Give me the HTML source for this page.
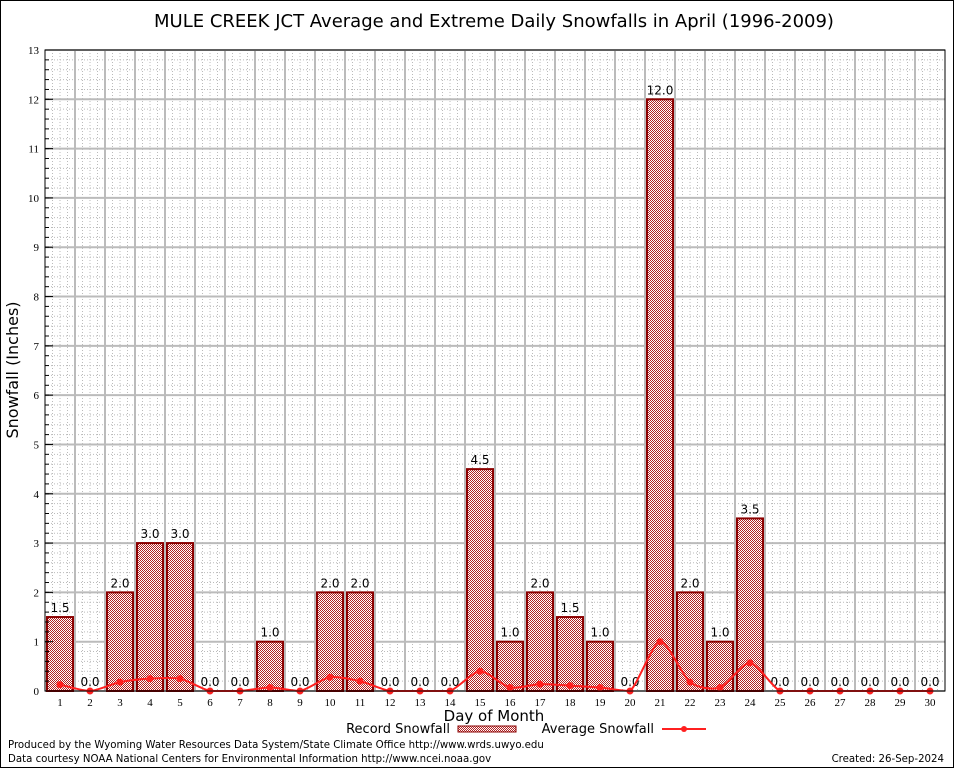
<!DOCTYPE html>
<html><head><meta charset="utf-8"><style>
body{margin:0;background:#fff;}
svg{display:block;font-family:"DejaVu Sans","Liberation Sans",sans-serif;}
</style></head><body>
<svg id="c" width="954" height="768">
<defs>
<pattern id="hatch" width="2" height="2" patternUnits="userSpaceOnUse">
<rect width="2" height="2" fill="#fff"/>
<rect x="0" y="0" width="1" height="1" fill="#b22222"/>
<rect x="1" y="1" width="1" height="1" fill="#b22222"/>
</pattern>
</defs>
<rect x="0.5" y="0.5" width="953" height="767" fill="#fff" stroke="#000"/>
<text x="494" y="27" font-size="18" text-anchor="middle">MULE CREEK JCT Average and Extreme Daily Snowfalls in April (1996-2009)</text>
<g id="grid"></g>
<g id="bars"></g>
<g id="avg"></g>
<g id="axes"></g>
<text x="18" y="370" font-size="16" text-anchor="middle" transform="rotate(-90 18 370)">Snowfall (Inches)</text>
<text x="494" y="721" font-size="15" text-anchor="middle">Day of Month</text>
<g>
<text x="450" y="733" font-size="13" text-anchor="end">Record Snowfall</text>
<rect x="458" y="726" width="58" height="6" fill="url(#hatch)" stroke="#8b0000"/>
<text x="654" y="733" font-size="13" text-anchor="end">Average Snowfall</text>
<line x1="662" y1="729" x2="706" y2="729" stroke="#ff2020" stroke-width="2"/>
<circle cx="684" cy="729" r="3" fill="#ff2020"/>
</g>
<text x="8" y="748" font-size="10.2">Produced by the Wyoming Water Resources Data System/State Climate Office http://www.wrds.uwyo.edu</text>
<text x="8" y="762" font-size="10.2">Data courtesy NOAA National Centers for Environmental Information http://www.ncei.noaa.gov</text>
<text x="944" y="762" font-size="10.2" text-anchor="end">Created:  26-Sep-2024</text>
</svg>
<script>
const days=[1,2,3,4,5,6,7,8,9,10,11,12,13,14,15,16,17,18,19,20,21,22,23,24,25,26,27,28,29,30];
const records=[1.5,0,2,3,3,0,0,1,0,2,2,0,0,0,4.5,1,2,1.5,1,0,12,2,1,3.5,0,0,0,0,0,0];
const averages=[0.13,0,0.18,0.25,0.25,0,0,0.07,0,0.28,0.2,0,0,0,0.4,0.07,0.14,0.11,0.07,0,1.0,0.18,0.07,0.57,0,0,0,0,0,0];
const yTicks=[0,1,2,3,4,5,6,7,8,9,10,11,12,13];
const L=45,R=945,T=50,B=691,yMax=13;
const slot=(R-L)/days.length;
const xs=d=>L+(d-0.5)*slot;
const ys=v=>B-(v/yMax)*(B-T);
const NS='http://www.w3.org/2000/svg';
function mk(tag,attrs,parent,txt){const e=document.createElementNS(NS,tag);for(const k in attrs)e.setAttribute(k,attrs[k]);if(txt!==undefined)e.textContent=txt;parent.appendChild(e);return e;}
const grid=document.getElementById('grid'),bars=document.getElementById('bars'),avg=document.getElementById('avg'),axes=document.getElementById('axes');
for(let v=0;v<=yMax;v+=0.2){const l=mk('line',{x1:L,x2:R,y1:ys(v),y2:ys(v),stroke:'#bbb','stroke-dasharray':'1,2'},grid);}
for(let i=0;i<days.length*4;i++){const x=L+i*slot/4;const l=mk('line',{x1:x,x2:x,y1:T,y2:B,stroke:'#bbb','stroke-dasharray':'1,2'},grid);}
yTicks.forEach(v=>{const l=mk('line',{x1:L,x2:R,y1:ys(v),y2:ys(v),stroke:'#bbb','stroke-width':2},grid);});
for(let i=1;i<days.length;i++){const x=L+i*slot;const l=mk('line',{x1:x,x2:x,y1:T,y2:B,stroke:'#bbb','stroke-width':2},grid);}
days.forEach((d,i)=>{
 const v=records[i];
 if(v>0){const r=mk('rect',{x:xs(d)-13,y:ys(v),width:26,height:B-ys(v),fill:'url(#hatch)',stroke:'#8b0000','stroke-width':2},bars);}
 const t=mk('text',{x:xs(d),y:ys(v)-5,'font-size':12,'text-anchor':'middle'},bars,v.toFixed(1));
 const xt=mk('text',{x:xs(d),y:B+15,'font-size':11,'text-anchor':'middle','font-family':'Liberation Serif,serif'},axes,String(d));
});
const pts=days.map((d,i)=>[xs(d),ys(averages[i])]);
let dp='M'+pts[0][0]+','+pts[0][1];
for(let i=0;i<pts.length-1;i++){const p0=pts[Math.max(0,i-1)],p1=pts[i],p2=pts[i+1],p3=pts[Math.min(pts.length-1,i+2)];
 const c1y=Math.min(B,p1[1]+(p2[1]-p0[1])/8),c2y=Math.min(B,p2[1]-(p3[1]-p1[1])/8);
 dp+=' C'+(p1[0]+(p2[0]-p0[0])/8)+','+c1y+' '+(p2[0]-(p3[0]-p1[0])/8)+','+c2y+' '+p2[0]+','+p2[1];}
const path=mk('path',{d:dp,fill:'none',stroke:'#ff2020','stroke-width':2},avg);


pts.forEach(p=>{const c=mk('circle',{cx:p[0],cy:p[1],r:3.5,fill:'#ff2020'},avg);});
const fr=mk('rect',{x:L,y:T,width:R-L,height:B-T,fill:'none',stroke:'#000'},axes);


yTicks.forEach(v=>{const tk=mk('line',{x1:L,x2:L+8,y1:ys(v),y2:ys(v),stroke:'#000'},axes);
 const t=mk('text',{x:L-6,y:ys(v)+4,'font-size':11,'text-anchor':'end','font-family':'Liberation Serif,serif'},axes,String(v));});
for(let v=0;v<=yMax;v+=0.2){const tk=mk('line',{x1:L,x2:L+4,y1:ys(v),y2:ys(v),stroke:'#000'},axes);}
</script>
</body></html>
